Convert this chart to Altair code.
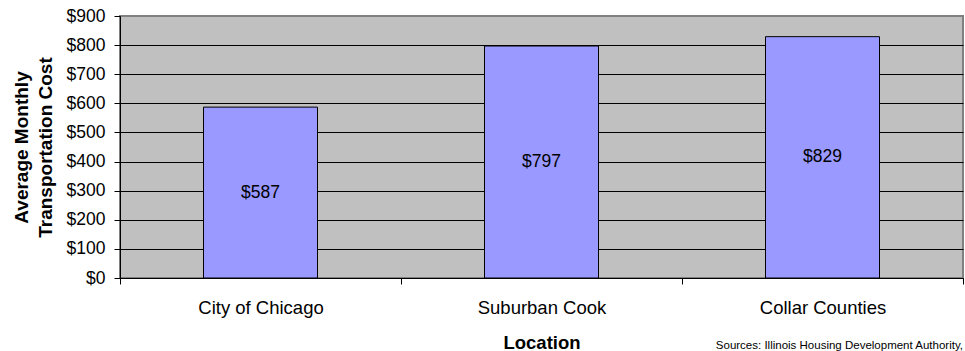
import altair as alt
import pandas as pd

# Average monthly transportation cost by location
locations = ["City of Chicago", "Suburban Cook", "Collar Counties"]
costs = [587, 797, 829]
y_ticks = [0, 100, 200, 300, 400, 500, 600, 700, 800, 900]
source_note = "Sources: Illinois Housing Development Authority,"

df = pd.DataFrame({"Location": locations, "Cost": costs})

FONT = "Liberation Sans"
W, H = 843, 262

x_axis = alt.Axis(
    title="Location",
    labelAngle=0,
    labelFont=FONT,
    labelFontSize=18.5,
    labelColor="black",
    labelPadding=14,
    labelOverlap=False,
    tickBand="extent",
    tickColor="black",
    tickSize=6,
    domainColor="black",
    titleFont=FONT,
    titleFontSize=18.5,
    titleFontWeight="bold",
    titleColor="black",
    titleBaseline="alphabetic",
    titleY=70,
)

y_axis = alt.Axis(
    values=y_ticks,
    format="$.0f",
    title=["Average Monthly", "Transportation Cost"],
    labelFont=FONT,
    labelFontSize=17.5,
    labelColor="black",
    labelPadding=9,
    labelOverlap=False,
    tickColor="black",
    tickSize=6,
    domainColor="black",
    grid=True,
    gridColor={
        "condition": {"test": "datum.value === 900", "value": "#808080"},
        "value": "black",
    },
    gridWidth=1,
    titleFont=FONT,
    titleFontSize=19,
    titleFontWeight="bold",
    titleColor="black",
    titleBaseline="middle",
    titleAlign="center",
    titleLineHeight=24,
    titleX=-99,
    titleY=H / 2,
)

x_scale = alt.Scale(paddingInner=0, paddingOuter=0)
y_scale = alt.Scale(domain=[0, 900], nice=False)

bars = alt.Chart(df).mark_bar(
    size=114, color="#9999FF", stroke="black", strokeWidth=1
).encode(
    x=alt.X("Location:N", sort=locations, scale=x_scale, axis=x_axis),
    y=alt.Y("Cost:Q", scale=y_scale, axis=y_axis),
)

labels = (
    alt.Chart(df)
    .transform_calculate(mid="datum.Cost / 2")
    .mark_text(font=FONT, fontSize=17.5, color="black", baseline="middle")
    .encode(
        x=alt.X("Location:N", sort=locations, scale=x_scale, axis=x_axis),
        y=alt.Y("mid:Q", scale=y_scale, axis=y_axis),
        text=alt.Text("Cost:Q", format="$.0f"),
    )
)

# Source line under the chart, flush with its right edge
note = (
    alt.Chart(pd.DataFrame({"note": [source_note]}))
    .mark_text(font=FONT, fontSize=11.5, color="black", align="right", baseline="alphabetic")
    .encode(x=alt.value(W), y=alt.value(333), text="note:N")
)

chart = (
    alt.layer(bars, labels, note)
    .properties(
        width=W,
        height=H,
        autosize=alt.AutoSizeParams(type="none"),
        padding={"left": 120, "top": 16, "right": 2, "bottom": 73},
        background="white",
    )
    .configure_view(fill="#C0C0C0", stroke="#808080", strokeWidth=2)
)

chart.save("out.html", embed_options={"renderer": "svg", "actions": False})
